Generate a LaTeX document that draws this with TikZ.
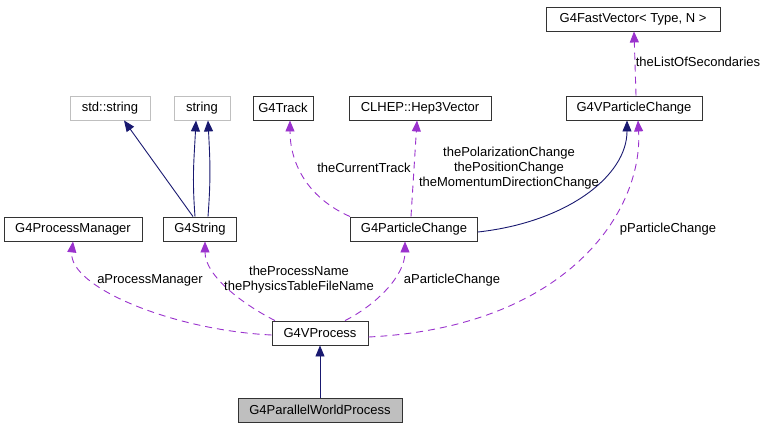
\documentclass[tikz,border=0pt]{standalone}
\usepackage{fontspec}
\setmainfont{Liberation Sans}
\usepackage{tikz}
\usetikzlibrary{arrows.meta,positioning}
\definecolor{cInh}{HTML}{191970}
\definecolor{cUse}{HTML}{9A32CD}
\definecolor{cBox}{HTML}{333333}
\definecolor{cExt}{HTML}{BFBFBF}
\definecolor{cSel}{HTML}{BFBFBF}
\tikzset{
  cls/.style={draw=cBox, line width=0.9pt, fill=white, minimum height=24,
              inner sep=0pt, font=\fontsize{13}{15}\selectfont, align=center},
  extcls/.style={cls, draw=cExt},
  selcls/.style={cls, fill=cSel},
  inh/.style={-{Triangle[length=11pt,width=9pt]}, line width=0.9pt, cInh},
  use/.style={-{Triangle[length=11pt,width=9pt]}, line width=0.9pt, cUse,
              dash pattern=on 7pt off 5pt},
  lbl/.style={font=\fontsize{13}{15}\selectfont, inner sep=0pt, align=center}
}
\begin{document}
\begin{tikzpicture}[x=1pt, y=-1pt]
\useasboundingbox (0,0) rectangle (768,429);
% classes
\node[cls, minimum width=174] (fastvec) at (633,19) {G4FastVector< Type, N >};
\node[cls, minimum width=136] (vpchange) at (634,108) {G4VParticleChange};
\node[extcls, minimum width=80] (stdstring) at (110,108) {std::string};
\node[extcls, minimum width=56] (string) at (202,108) {string};
\node[cls, minimum width=60] (track) at (283,108) {G4Track};
\node[cls, minimum width=142] (hep3vec) at (420,108) {CLHEP::Hep3Vector};
\node[cls, minimum width=138] (procman) at (73,229) {G4ProcessManager};
\node[cls, minimum width=73] (g4string) at (200,229) {G4String};
\node[cls, minimum width=127] (pchange) at (414,229) {G4ParticleChange};
\node[cls, minimum width=96] (vprocess) at (320,333) {G4VProcess};
\node[selcls, minimum width=164] (pwprocess) at (320,410) {G4ParallelWorldProcess};

% inheritance
\draw[inh] (pwprocess) -- (vprocess);
\draw[inh] ([xshift=-7pt]g4string.north) -- ([xshift=14pt]stdstring.south);
\draw[inh] ([xshift=-5pt]g4string.north) .. controls +(-3,-40) and +(-2,40) .. ([xshift=-6pt]string.south);
\draw[inh] ([xshift=8pt]g4string.north) .. controls +(3,-40) and +(2,40) .. ([xshift=6pt]string.south);
\draw[inh] ([yshift=-3pt]pchange.east) .. controls +(90,-10) and +(0,55) .. ([xshift=-7pt]vpchange.south);

% usage
\draw[use] ([xshift=2pt]vpchange.north) -- ([xshift=1pt]fastvec.south);
\draw[use] ([xshift=-64pt]pchange.north) .. controls +(-45,-20) and +(0,40) .. ([xshift=7pt]track.south);
\draw[use] ([xshift=-3pt]pchange.north) -- ([xshift=-3pt]hep3vec.south);
\draw[use] ([yshift=-2pt]vprocess.west) .. controls +(-100,-5) and +(-5,45) .. (procman.south);
\draw[use] ([xshift=-45pt]vprocess.north) .. controls +(-30,-15) and +(0,35) .. ([xshift=5pt]g4string.south);
\draw[use] ([xshift=25pt]vprocess.north) .. controls +(30,-15) and +(0,35) .. ([xshift=-9pt]pchange.south);
\draw[use] ([yshift=-4pt]vprocess.east) .. controls +(200,-10) and +(5,90) .. ([xshift=4pt]vpchange.south);

% labels
\node[lbl] (lsec) at (698,62) {theListOfSecondaries};
\node[lbl] (ltrack) at (364,168) {theCurrentTrack};
\node[lbl] (lvec) at (509,168) {thePolarizationChange\\thePositionChange\\theMomentumDirectionChange};
\node[lbl] (lpm) at (150,280) {aProcessManager};
\node[lbl] (lname) at (299,280) {theProcessName\\thePhysicsTableFileName};
\node[lbl] (lapc) at (452,280) {aParticleChange};
\node[lbl] (lppc) at (668,229) {pParticleChange};
\end{tikzpicture}
\end{document}
